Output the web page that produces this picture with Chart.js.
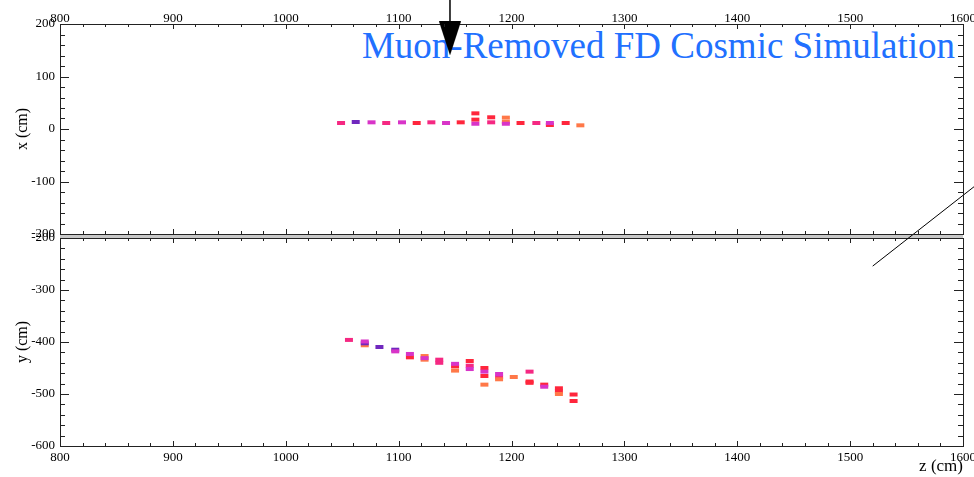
<!DOCTYPE html>
<html><head><meta charset="utf-8">
<script src="https://cdn.jsdelivr.net/npm/chart.js@4"></script>
<style>
html,body{margin:0;padding:0;background:#fff;width:974px;height:477px;overflow:hidden}
#wrap{position:relative;width:974px;height:477px}
.layer{position:absolute;left:0;top:0;width:974px;height:477px}
#title{position:absolute;right:19px;top:27px;font-family:"Liberation Serif";font-size:37px;line-height:1;color:#2170ff;white-space:nowrap;z-index:1}
#band{position:absolute;left:60px;top:234px;width:903px;height:4px;background:#c8c8c8;z-index:0}
</style></head><body>
<div id="wrap">
<div id="band"></div>
<div id="title">Muon-Removed FD Cosmic Simulation</div>
<div class="layer" style="z-index:2"><canvas id="c2" width="974" height="477"></canvas></div>
<div class="layer" style="z-index:3"><canvas id="c1" width="974" height="477"></canvas></div>
</div>
<script>
// ---- data (z in cm, coordinate in cm) ----
const zRange = [800, 1600];
const xRange = [-200, 200];
const yRange = [-600, -200];
// top view hits: [z, x]
const topMagenta = [[1076,12.7],[1103,12.7],[1142,11.4],[1168,10],[1195,10],[1234,11.4]];
const topPink    = [[1049,11.4],[1089,11.4],[1129,12.7],[1182,12.7],[1222,11.4]];
const topPurple  = [[1062,13.3]];
const topRed     = [[1116,11.4],[1155,12.7],[1168,29.8],[1168,17.8],[1182,22.3],[1208,11.4],[1234,7.6],[1248,11.4]];
const topOrange  = [[1195,21.6],[1195,13.3],[1261,7]];
// side view hits: [z, y]
const botPink    = [[1056,-396],[1136,-434],[1136,-440],[1163,-445.6],[1216,-457],[1189,-468]];
const botMagenta = [[1070,-399],[1097,-418],[1110,-423],[1123,-431],[1150,-442],[1163,-452],[1176,-457],[1189,-461.5],[1229,-486]];
const botPurple  = [[1070,-402.5],[1083,-409.6],[1097,-414.8]];
const botOrange  = [[1070,-406.3],[1123,-427],[1123,-434],[1150,-455],[1176,-482],[1189,-471.7],[1202,-467.3],[1242,-500]];
const botRed     = [[1110,-429.5],[1150,-446.8],[1163,-436.5],[1176,-450],[1176,-465.4],[1216,-476],[1216,-478.5],[1229,-482],[1242,-489],[1242,-495],[1255,-501],[1255,-513.5]];
// annotations
const arrowShaft = [[1145.5,250],[1145.5,172]];
const arrowHead  = [[1145.5,172.6]];
const trackLine  = [[1520,-254],[1640,-50]];

const COL = {magenta:'rgb(216,52,200)', pink:'rgb(245,40,130)', purple:'rgb(112,40,190)', red:'rgb(255,38,60)', orange:'rgb(255,120,72)'};
const pts = a => a.map(p => ({x:p[0], y:p[1]}));
const hits = (arr, c) => ({data:pts(arr), pointStyle:'line', pointRadius:4, pointBorderWidth:4, borderColor:c, backgroundColor:c, showLine:false});

const serif = 'Liberation Serif';
const tickFont = {family:serif, size:13};
const plain = v => String(v);

// arrow head canvas
const head = document.createElement('canvas');
head.width = 22; head.height = 34;
{const g = head.getContext('2d'); g.fillStyle='#000'; g.beginPath(); g.moveTo(0,0); g.lineTo(22,0); g.lineTo(11,34); g.closePath(); g.fill();}

const inTicks = {id:'inTicks', afterDraw(chart){
  const {ctx, chartArea:a} = chart; const sx = chart.scales.x, sy = chart.scales.y;
  ctx.save(); ctx.strokeStyle='#222'; ctx.lineWidth=1; ctx.beginPath();
  for (let v = sx.min; v <= sx.max; v += 20){
    const p = Math.round(sx.getPixelForValue(v)) + 0.5; const L = v % 100 === 0 ? 5 : 3;
    ctx.moveTo(p, a.bottom); ctx.lineTo(p, a.bottom - L); ctx.moveTo(p, a.top); ctx.lineTo(p, a.top + L);
  }
  for (let v = sy.min; v <= sy.max; v += 20){
    const p = Math.round(sy.getPixelForValue(v)) + 0.5; const L = v % 100 === 0 ? 9 : 5;
    ctx.moveTo(a.left, p); ctx.lineTo(a.left + L, p); ctx.moveTo(a.right, p); ctx.lineTo(a.right - L, p);
  }
  ctx.stroke(); ctx.restore();
}};

const border = {display:true, color:'#222', width:1};
const fixH = h => s => { s.height = h; s.paddingLeft = 0; s.paddingRight = 0; };
const fixW = w => s => { s.width = w; s.paddingTop = 0; s.paddingBottom = 0; };
function axes(isTop){
  const vr = isTop ? xRange : yRange;
  return {
    x:{type:'linear', position: isTop ? 'top' : 'bottom', min:zRange[0], max:zRange[1],
       afterFit:fixH(isTop ? 24 : 31),
       ticks:{stepSize:100, font:tickFont, color:'#000', padding: isTop ? -2 : 4, maxRotation:0, autoSkip:false, callback:plain},
       grid:{display:false, drawTicks:false}, border,
       title:{display:!isTop, text:'z (cm)', align:'end', font:{family:serif, size:17}, color:'#000', padding:{top:0,bottom:0}}},
    x2:{type:'linear', position: isTop ? 'bottom' : 'top', min:zRange[0], max:zRange[1],
       afterFit:fixH(isTop ? 243 : 238),
       ticks:{display:false}, grid:{display:false, drawTicks:false}, border},
    y:{type:'linear', position:'left', min:vr[0], max:vr[1],
       afterFit:fixW(60),
       ticks:{stepSize:100, font:tickFont, color:'#000', padding:5, autoSkip:false, callback:plain},
       grid:{display:false, drawTicks:false}, border,
       title:{display:true, text: isTop ? 'x (cm)' : 'y (cm)', font:{family:serif, size:16}, color:'#000', padding:{top:13,bottom:0}}},
    y2:{type:'linear', position:'right', min:vr[0], max:vr[1],
       afterFit:fixW(11),
       ticks:{display:false}, grid:{display:false, drawTicks:false}, border}
  };
}
const baseOpts = isTop => ({responsive:false, animation:false, events:[], devicePixelRatio:1,
  layout:{padding:0, autoPadding:false}, plugins:{legend:{display:false}, tooltip:{enabled:false}}, scales:axes(isTop)});

new Chart(document.getElementById('c1'), {type:'scatter',
  data:{datasets:[
    hits(topMagenta, COL.magenta), hits(topPink, COL.pink), hits(topPurple, COL.purple),
    hits(topOrange, COL.orange), hits(topRed, COL.red),
    {data:pts(arrowShaft), showLine:true, borderColor:'#000', borderWidth:1.5, pointRadius:0, clip:false},
    {data:pts(arrowHead), pointStyle:head, pointRadius:17, showLine:false, clip:false}
  ]},
  options:baseOpts(true), plugins:[inTicks]});

new Chart(document.getElementById('c2'), {type:'scatter',
  data:{datasets:[
    hits(botMagenta, COL.magenta), hits(botPurple, COL.purple), hits(botOrange, COL.orange),
    hits(botPink, COL.pink), hits(botRed, COL.red),
    {data:pts(trackLine), showLine:true, borderColor:'#000', borderWidth:1, pointRadius:0, clip:false}
  ]},
  options:baseOpts(false), plugins:[inTicks]});
</script>
</body></html>
